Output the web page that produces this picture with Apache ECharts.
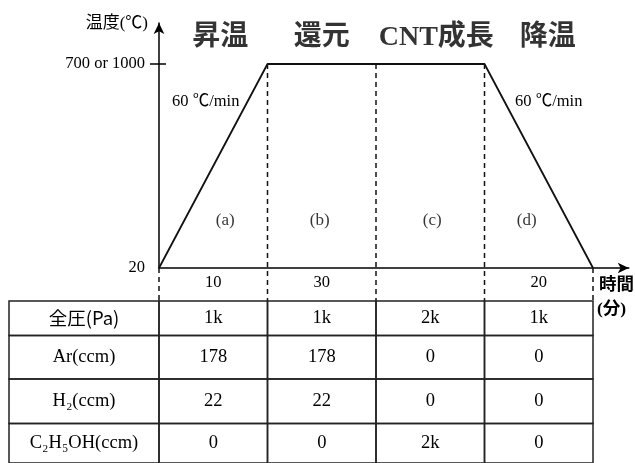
<!DOCTYPE html>
<html><head><meta charset="utf-8">
<script src="https://cdn.jsdelivr.net/npm/echarts@6/dist/echarts.min.js"></script>
<style>html,body{margin:0;padding:0;background:#fff}#c{width:635px;height:463px}</style>
</head><body><div id="c"></div>
<script>
// ---- data ----
const phaseNames = ['昇温', '還元', 'CNT成長', '降温'];
const phaseLetters = ['(a)', '(b)', '(c)', '(d)'];
const durations = ['10', '30', '', '20'];
const boundaries = [0, 1, 2, 3, 4];
const temperatures = [20, 700, 700, 700, 20];
const yTickValues = [20, 700];
const yTickLabels = ['20', '700 or 1000'];
const rowLabels = ['全圧(Pa)', 'Ar(ccm)', 'H₂(ccm)', 'C₂H₅OH(ccm)'];
const pressure = ['1k', '1k', '2k', '1k'];
const arFlow = ['178', '178', '0', '0'];
const h2Flow = ['22', '22', '0', '0'];
const ethanolFlow = ['0', '0', '2k', '0'];

// ---- layout / style ----
const SERIF = '"Liberation Serif","Noto Sans CJK JP",serif';
const CJK = '"Noto Sans CJK JP",sans-serif';
const UNIT = 108.5;           // px per phase
const X_MAX = 4.33;
const AX_LEFT = 159, AX_Y = 268, AX_TOP = 23;
const T_MIN = 20;
const PX_PER_DEG = (268 - 64) / 680;
const T_MAX = T_MIN + (AX_Y - AX_TOP) / PX_PER_DEG;
const tempAtPx = px => T_MIN + (AX_Y - px) / PX_PER_DEG;
const TABLE_LEFT = 9, TABLE_TOP = 301;
const X_TABLE_MIN = -(AX_LEFT - TABLE_LEFT) / UNIT;
const rowHeights = [35, 44, 45, 40];
const rowCum = rowHeights.reduce((a, h) => { a.push(a[a.length - 1] + h); return a; }, [0]);
const titleOffsets = [7, 0, 6, 9];
const letterOffsets = [12, -2, 2, -12];

const tableRows = [pressure, arFlow, h2Flow, ethanolFlow];
const cells = [];
tableRows.forEach((vals, r) => {
  cells.push([X_TABLE_MIN, 0, r, rowLabels[r], 1]);
  vals.forEach((v, c) => cells.push([boundaries[c], boundaries[c + 1], r, v, 0]));
});

const chart = echarts.init(document.getElementById('c'), null, {renderer: 'canvas'});
chart.setOption({
  animation: false,
  backgroundColor: '#fff',
  grid: [
    {left: AX_LEFT, top: AX_TOP, width: X_MAX * UNIT, height: AX_Y - AX_TOP},
    {left: TABLE_LEFT, top: TABLE_TOP, width: (X_MAX - X_TABLE_MIN) * UNIT, height: rowCum[rowCum.length - 1]}
  ],
  xAxis: [
    {gridIndex: 0, type: 'value', min: 0, max: X_MAX,
      axisLine: {lineStyle: {color: '#000', width: 1.5}, symbol: ['none', 'arrow'], symbolSize: [8, 11]},
      axisTick: {show: false}, splitLine: {show: false},
      axisLabel: {customValues: [0.5, 1.5, 2.5, 3.5], formatter: v => durations[Math.floor(v)],
        margin: 6, color: '#000', fontSize: 16.5, fontFamily: SERIF}},
    {gridIndex: 1, type: 'value', min: X_TABLE_MIN, max: X_MAX, show: false}
  ],
  yAxis: [
    {gridIndex: 0, type: 'value', position: 'left', min: T_MIN, max: T_MAX,
      axisLine: {show: true, lineStyle: {color: '#000', width: 1.5}, symbol: ['none', 'arrow'], symbolSize: [8, 11]},
      axisTick: {show: true, customValues: [700], length: 9, lineStyle: {color: '#000', width: 1.5}},
      splitLine: {show: false},
      axisLabel: {customValues: yTickValues, formatter: v => yTickLabels[yTickValues.indexOf(v)],
        margin: 14, color: '#000', fontSize: 16.5, fontFamily: SERIF}},
    {gridIndex: 0, type: 'value', position: 'left', offset: 0, min: T_MIN, max: T_MAX,
      axisLine: {show: false}, splitLine: {show: false}, axisLabel: {show: false},
      axisTick: {show: true, inside: true, customValues: [700], length: 7, lineStyle: {color: '#000', width: 1.5}}},
    {gridIndex: 1, type: 'value', min: 0, max: rowCum[rowCum.length - 1], inverse: true, show: false}
  ],
  series: [
    {type: 'line', xAxisIndex: 0, yAxisIndex: 0, symbol: 'none',
      data: boundaries.map((b, i) => [b, temperatures[i]]),
      lineStyle: {color: '#111', width: 1.8}},
    {type: 'custom', xAxisIndex: 0, yAxisIndex: 0, clip: false,
      data: boundaries.map((b, i) => [b, temperatures[i]]),
      renderItem: (params, api) => {
        const p = api.coord([api.value(0), api.value(1)]);
        return {type: 'line', shape: {x1: p[0], y1: p[1], x2: p[0], y2: TABLE_TOP},
          style: {stroke: '#111', lineWidth: 1.5, lineDash: [5, 4]}};
      }},
    {type: 'scatter', xAxisIndex: 0, yAxisIndex: 0, symbolSize: 0, silent: true,
      data: phaseNames.map((n, i) => ({name: n, value: [boundaries[i] + 0.5, tempAtPx(38)],
        label: {offset: [titleOffsets[i], 0]}})),
      label: {show: true, position: 'inside', formatter: p => p.name, color: '#000',
        fontSize: 28, fontWeight: 'bold', fontFamily: SERIF}},
    {type: 'scatter', xAxisIndex: 0, yAxisIndex: 0, symbolSize: 0, silent: true,
      data: phaseLetters.map((n, i) => ({name: n, value: [boundaries[i] + 0.5, tempAtPx(221)],
        label: {offset: [letterOffsets[i], 0]}})),
      label: {show: true, position: 'inside', formatter: p => p.name, color: '#000',
        fontSize: 17, fontFamily: SERIF}},
    {type: 'custom', xAxisIndex: 1, yAxisIndex: 2, clip: false,
      data: cells,
      renderItem: (params, api) => {
        const r = api.value(2);
        const a = api.coord([api.value(0), rowCum[r]]);
        const b = api.coord([api.value(1), rowCum[r + 1]]);
        const txt = cells[params.dataIndex][3];
        const cjk = /全/.test(txt);
        return {type: 'group', children: [
          {type: 'rect', shape: {x: a[0], y: a[1], width: b[0] - a[0], height: b[1] - a[1]},
            style: {fill: 'none', stroke: '#222', lineWidth: 1.5}},
          {type: 'text', x: (a[0] + b[0]) / 2, y: (a[1] + b[1]) / 2,
            style: {text: txt, align: 'center', verticalAlign: 'middle', fill: '#000',
              fontSize: cjk ? 18.5 : 18.5, fontFamily: cjk ? CJK : SERIF}}
        ]};
      }}
  ],
  graphic: [
    {type: 'text', x: 148, y: 24, style: {text: '温度(℃)', align: 'right', verticalAlign: 'middle',
      fontSize: 17, fontFamily: SERIF, fill: '#000'}},
    {type: 'text', x: 172, y: 102, style: {text: '60 ℃/min', align: 'left', verticalAlign: 'middle',
      fontSize: 16.5, fontFamily: SERIF, fill: '#000'}},
    {type: 'text', x: 515, y: 102, style: {text: '60 ℃/min', align: 'left', verticalAlign: 'middle',
      fontSize: 16.5, fontFamily: SERIF, fill: '#000'}},
    {type: 'text', x: 599, y: 285, style: {text: '時間', align: 'left', verticalAlign: 'middle',
      fontSize: 17.5, fontWeight: 'bold', fontFamily: SERIF, fill: '#000'}},
    {type: 'text', x: 597, y: 309, style: {text: '(分)', align: 'left', verticalAlign: 'middle',
      fontSize: 17.5, fontWeight: 'bold', fontFamily: SERIF, fill: '#000'}}
  ]
});
</script></body></html>
